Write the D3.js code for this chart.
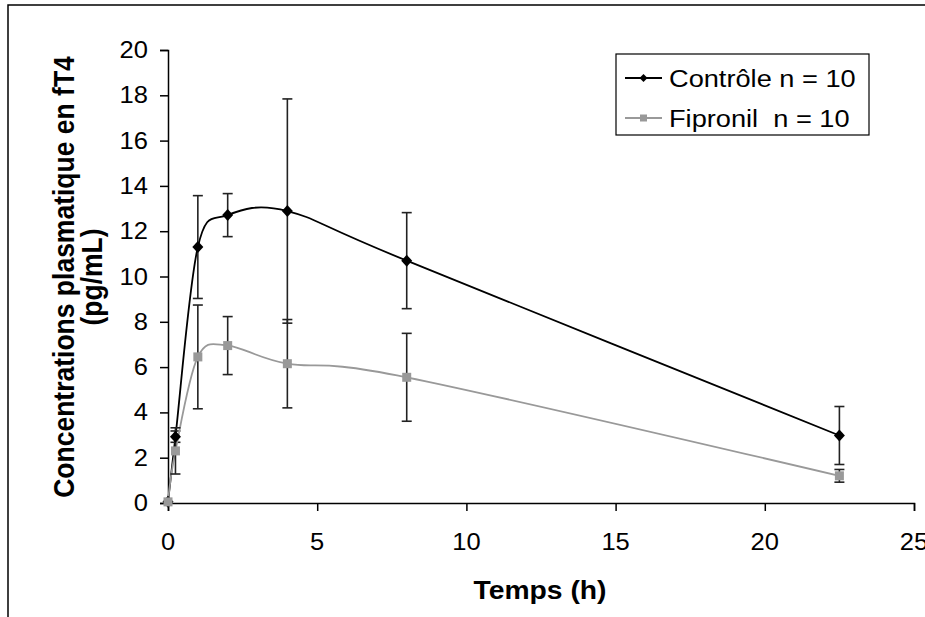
<!DOCTYPE html>
<html>
<head>
<meta charset="utf-8">
<script src="https://cdn.jsdelivr.net/npm/d3@7"></script>
<style>
  body { margin: 0; background: #fff; }
  svg text { font-family: "Liberation Sans", Arial, sans-serif; fill: #000; }
</style>
</head>
<body>
<div id="chart"></div>
<script>
// time points (h)
var times = [0, 0.25, 1, 2, 4, 8, 22.5];

// Contrôle n = 10
var controle = [0.05, 2.93, 11.3, 12.71, 12.89, 10.7, 2.98];
var controleErr = [0, 0.25, 2.27, 0.95, 4.95, 2.12, 1.28];

// Fipronil n = 10
var fipronil = [0.05, 2.3, 6.45, 6.95, 6.15, 5.55, 1.2];
var fipronilErr = [0, 1.02, 2.29, 1.28, 1.95, 1.94, 0.28];

var xTicks = [0, 5, 10, 15, 20, 25];
var yTicks = [0, 2, 4, 6, 8, 10, 12, 14, 16, 18, 20];

var W = 925, H = 617;
var sx = 1.11; // horizontal stretch of the original picture

var svg = d3.select("#chart").append("svg")
    .attr("width", W)
    .attr("height", H);

// outer frame (only top and left edges visible)
svg.append("path")
    .attr("d", "M8," + H + "V5H" + W)
    .attr("fill", "none")
    .attr("stroke", "#000")
    .attr("stroke-width", 1.5);

var x = d3.scaleLinear().domain([0, 25]).range([168, 914]);
var y = d3.scaleLinear().domain([0, 20]).range([503, 50]);

// axes
var xAxis = svg.append("g")
    .attr("transform", "translate(0," + y(0) + ")")
    .call(d3.axisBottom(x).tickValues(xTicks).tickSize(8).tickFormat(d3.format("d")));
var yAxis = svg.append("g")
    .attr("transform", "translate(" + x(0) + ",0)")
    .call(d3.axisLeft(y).tickValues(yTicks).tickSize(8).tickFormat(d3.format("d")));

[xAxis, yAxis].forEach(function (a) {
    a.select(".domain").attr("stroke", "#000").attr("stroke-width", 1.5);
    a.selectAll(".tick line").attr("stroke", "#000").attr("stroke-width", 1.5);
    a.selectAll(".tick text").remove();
});

// tick labels, stretched horizontally like the original
xTicks.forEach(function (d) {
    svg.append("text")
        .attr("transform", "translate(" + x(d) + ",550) scale(" + sx + ",1)")
        .attr("text-anchor", "middle")
        .attr("font-size", "23px")
        .text(d);
});
yTicks.forEach(function (d) {
    svg.append("text")
        .attr("transform", "translate(148," + (y(d) + 8) + ") scale(" + sx + ",1)")
        .attr("text-anchor", "end")
        .attr("font-size", "23px")
        .text(d);
});

// axis titles
svg.append("text")
    .attr("transform", "translate(540,599) scale(" + sx + ",1)")
    .attr("text-anchor", "middle")
    .attr("font-size", "25.5px")
    .attr("font-weight", "bold")
    .text("Temps (h)");

svg.append("text")
    .attr("transform", "translate(74,277) scale(" + sx + ",1) rotate(-90)")
    .attr("text-anchor", "middle")
    .attr("font-size", "26.5px")
    .attr("font-weight", "bold")
    .text("Concentrations plasmatique en fT4");
svg.append("text")
    .attr("transform", "translate(102,277) scale(" + sx + ",1) rotate(-90)")
    .attr("text-anchor", "middle")
    .attr("font-size", "26.5px")
    .attr("font-weight", "bold")
    .text("(pg/mL)");

var line = d3.line()
    .x(function (d) { return x(d[0]); })
    .y(function (d) { return y(d[1]); })
    .curve(d3.curveCardinal.tension(0));

var series = [
    { name: "Contrôle n = 10", vals: controle, err: controleErr, color: "#000", marker: "diamond" },
    { name: "Fipronil  n = 10", vals: fipronil, err: fipronilErr, color: "#999", marker: "square" }
];

series.forEach(function (s) {
    var pts = times.map(function (t, i) { return [t, s.vals[i], s.err[i]]; });

    svg.append("path")
        .datum(pts)
        .attr("d", line)
        .attr("fill", "none")
        .attr("stroke", s.color)
        .attr("stroke-width", 1.8);

    // error bars
    var eb = svg.append("g").selectAll("g")
        .data(pts.filter(function (d) { return d[2] > 0; }))
        .enter().append("g");
    eb.append("line")
        .attr("x1", function (d) { return x(d[0]); })
        .attr("x2", function (d) { return x(d[0]); })
        .attr("y1", function (d) { return y(d[1] + d[2]); })
        .attr("y2", function (d) { return y(d[1] - d[2]); })
        .attr("stroke", "#222").attr("stroke-width", 1.6);
    [1, -1].forEach(function (sgn) {
        eb.append("line")
            .attr("x1", function (d) { return x(d[0]) - 5; })
            .attr("x2", function (d) { return x(d[0]) + 5; })
            .attr("y1", function (d) { return y(d[1] + sgn * d[2]); })
            .attr("y2", function (d) { return y(d[1] + sgn * d[2]); })
            .attr("stroke", "#222").attr("stroke-width", 1.6);
    });
});

// markers drawn above error bars
function drawMarker(g, type, cx, cy) {
    if (type === "diamond") {
        g.append("path")
            .attr("d", "M" + cx + "," + (cy - 6) + "L" + (cx + 5.5) + "," + cy + "L" + cx + "," + (cy + 6) + "L" + (cx - 5.5) + "," + cy + "Z")
            .attr("fill", "#000");
    } else {
        g.append("rect")
            .attr("x", cx - 4.5).attr("y", cy - 4.5)
            .attr("width", 9).attr("height", 9)
            .attr("fill", "#999");
    }
}

var markers = svg.append("g");
series.forEach(function (s) {
    times.forEach(function (t, i) {
        drawMarker(markers, s.marker, x(t), y(s.vals[i]));
    });
});

// legend
var lg = svg.append("g");
lg.append("rect")
    .attr("x", 616).attr("y", 54)
    .attr("width", 253).attr("height", 81)
    .attr("fill", "#fff")
    .attr("stroke", "#000")
    .attr("stroke-width", 1.2);

series.forEach(function (s, i) {
    var ly = 78 + i * 40;
    lg.append("line")
        .attr("x1", 625).attr("x2", 662)
        .attr("y1", ly).attr("y2", ly)
        .attr("stroke", s.color).attr("stroke-width", 1.8);
    if (s.marker === "diamond") {
        lg.append("path")
            .attr("d", "M643.5," + (ly - 4) + "L647.5," + ly + "L643.5," + (ly + 4) + "L639.5," + ly + "Z")
            .attr("fill", "#000");
    } else {
        lg.append("rect")
            .attr("x", 640).attr("y", ly - 3.5)
            .attr("width", 7).attr("height", 7)
            .attr("fill", "#999");
    }
    lg.append("text")
        .attr("transform", "translate(669," + (ly + 9) + ") scale(" + sx + ",1)")
        .attr("font-size", "24.5px")
        .attr("xml:space", "preserve")
        .style("white-space", "pre")
        .text(s.name);
});
</script>
</body>
</html>
